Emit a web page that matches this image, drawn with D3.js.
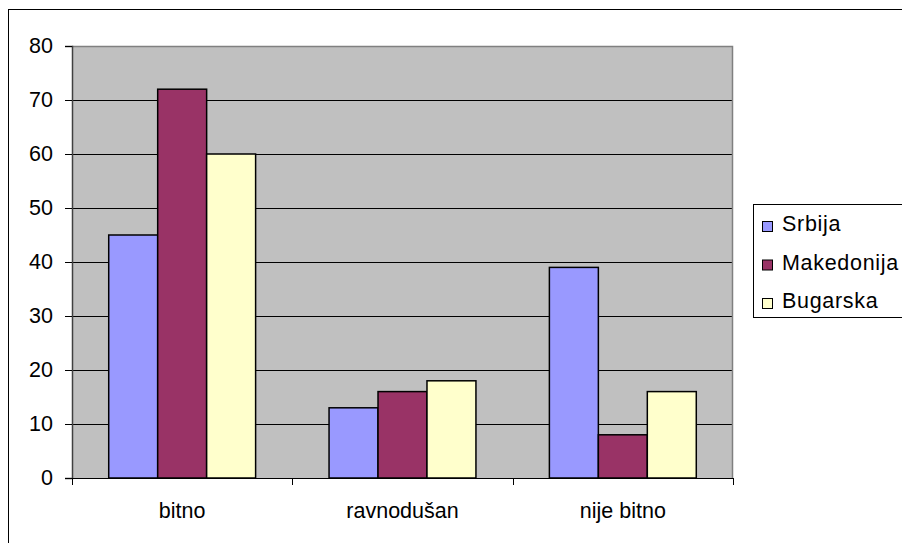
<!DOCTYPE html>
<html>
<head>
<meta charset="utf-8">
<script src="https://cdn.jsdelivr.net/npm/d3@7"></script>
<style>
  html, body { margin: 0; padding: 0; background: #fff; }
  svg { display: block; font-family: "Liberation Sans", Arial, sans-serif; }
</style>
</head>
<body>
<svg id="chart" width="902" height="543"></svg>
<script>
// Survey answers per country (percent)
const categories = ["bitno", "ravnodušan", "nije bitno"];
const seriesNames = ["Srbija", "Makedonija", "Bugarska"];
const srbija = [45, 13, 39];
const makedonija = [72, 16, 8];
const bugarska = [60, 18, 16];
const yTicks = [0, 10, 20, 30, 40, 50, 60, 70, 80];
const colors = ["#9999FF", "#993366", "#FFFFCC"];

const seriesValues = [srbija, makedonija, bugarska];
const FONT = 21.5;

const svg = d3.select("#chart");

// outer chart frame (extends past the right and bottom edges)
svg.append("rect")
  .attr("x", 8.5).attr("y", 9.5)
  .attr("width", 1000).attr("height", 1000)
  .attr("fill", "#fff").attr("stroke", "#000").attr("stroke-width", 1);

const plot = { left: 72, top: 46, right: 733, bottom: 478 };

const y = d3.scaleLinear().domain([0, 80]).range([plot.bottom, plot.top]);
const x0 = d3.scaleBand().domain(categories).range([plot.left, plot.right]).paddingInner(0).paddingOuter(0);
// three bars per category, gap of 1.5 bar widths
const barW = x0.bandwidth() / 4.5;
const x1 = d3.scaleBand().domain(seriesNames).range([0, barW * 3]);

// plot area background
svg.append("rect")
  .attr("x", plot.left).attr("y", plot.top)
  .attr("width", plot.right - plot.left).attr("height", plot.bottom - plot.top)
  .attr("fill", "#C0C0C0");

// horizontal gridlines
svg.append("g")
  .selectAll("line")
  .data(yTicks.filter(d => d > 0 && d < 80))
  .join("line")
  .attr("x1", plot.left).attr("x2", plot.right)
  .attr("y1", d => Math.round(y(d)) + 0.5).attr("y2", d => Math.round(y(d)) + 0.5)
  .attr("stroke", "#000").attr("stroke-width", 1);

// top and right border of the plot area
svg.append("path")
  .attr("d", `M${plot.left},${plot.top + 0.5}H${plot.right - 0.5}V${plot.bottom}`)
  .attr("fill", "none").attr("stroke", "#808080").attr("stroke-width", 1.5);

// bars
const groups = svg.append("g")
  .selectAll("g")
  .data(categories)
  .join("g")
  .attr("transform", c => `translate(${x0(c) + (x0.bandwidth() - barW * 3) / 2},0)`);

groups.selectAll("rect")
  .data((c, i) => seriesNames.map((s, k) => ({ s, k, v: seriesValues[k][i] })))
  .join("rect")
  .attr("x", d => x1(d.s))
  .attr("y", d => y(d.v))
  .attr("width", barW)
  .attr("height", d => y(0) - y(d.v))
  .attr("fill", d => colors[d.k])
  .attr("stroke", "#000").attr("stroke-width", 1.5);

// y axis
const yAxis = d3.axisLeft(y).tickValues(yTicks).tickSize(7).tickPadding(12);
const gy = svg.append("g")
  .attr("transform", `translate(${plot.left},0)`)
  .call(yAxis);
gy.attr("font-size", FONT).attr("font-family", "'Liberation Sans', Arial, sans-serif");
gy.select(".domain").attr("stroke", "#404040").attr("stroke-width", 1.5);
gy.selectAll(".tick line").attr("stroke", "#000");
gy.selectAll(".tick text").attr("fill", "#000");

// x axis: line with ticks at category boundaries
const gx = svg.append("g").attr("transform", `translate(0,${plot.bottom})`);
gx.append("line")
  .attr("x1", plot.left).attr("x2", plot.right)
  .attr("y1", 0.5).attr("y2", 0.5)
  .attr("stroke", "#000").attr("stroke-width", 1);
const bounds = categories.map(c => x0(c)).concat([plot.right]);
gx.selectAll("line.tick")
  .data(bounds)
  .join("line")
  .attr("class", "tick")
  .attr("x1", d => Math.round(d) + 0.5).attr("x2", d => Math.round(d) + 0.5)
  .attr("y1", 0).attr("y2", 7)
  .attr("stroke", "#000");
gx.selectAll("text")
  .data(categories)
  .join("text")
  .attr("x", c => x0(c) + x0.bandwidth() / 2)
  .attr("y", 40)
  .attr("text-anchor", "middle")
  .attr("font-size", FONT)
  .text(c => c);

// legend
const legend = svg.append("g");
legend.append("rect")
  .attr("x", 753.5).attr("y", 204.5)
  .attr("width", 200).attr("height", 113)
  .attr("fill", "#fff").attr("stroke", "#000").attr("stroke-width", 1);
const items = legend.selectAll("g.item")
  .data(seriesNames)
  .join("g")
  .attr("class", "item")
  .attr("transform", (d, i) => `translate(0,${231 + i * 38.5})`);
items.append("rect")
  .attr("x", 762.5).attr("y", -9.5)
  .attr("width", 10).attr("height", 10)
  .attr("fill", (d, i) => colors[i])
  .attr("stroke", "#000").attr("stroke-width", 1);
items.append("text")
  .attr("x", 782).attr("y", 0)
  .attr("font-size", FONT)
  .attr("letter-spacing", 0.7)
  .text(d => d);
</script>
</body>
</html>
